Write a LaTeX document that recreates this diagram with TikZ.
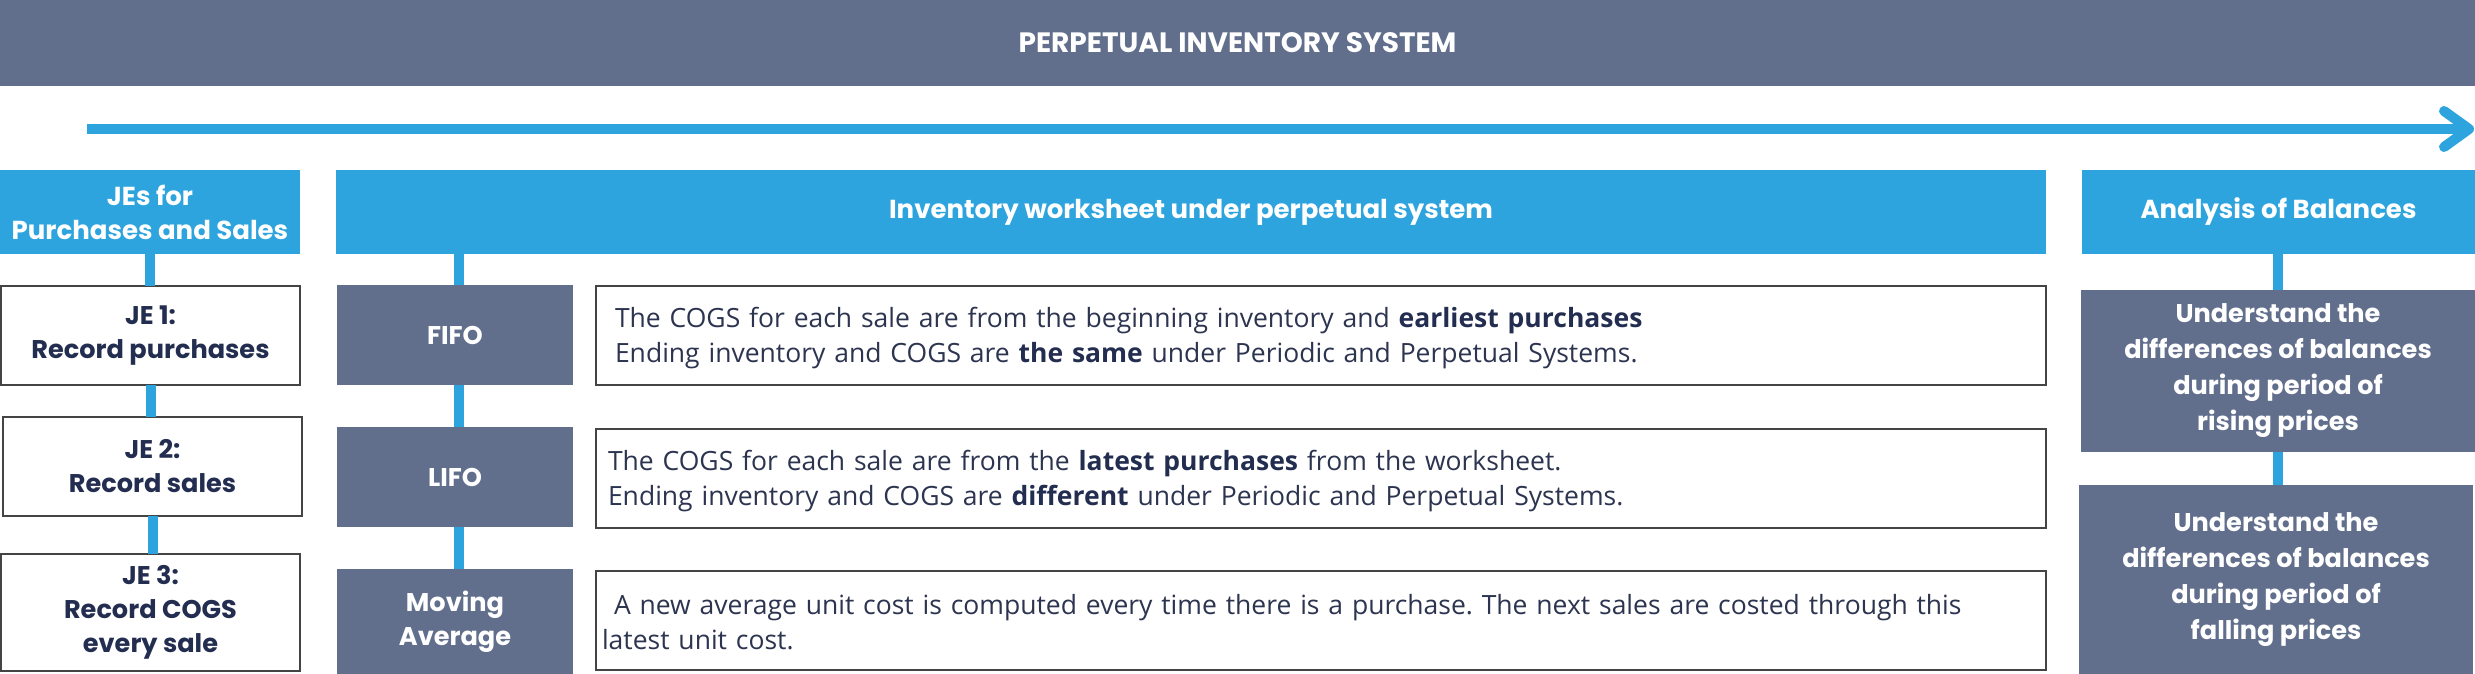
\documentclass[tikz,border=0pt]{standalone}
\usepackage{fontspec}
\setmainfont{Poppins}
\newfontfamily\bodyfont{Open Sans}
\usetikzlibrary{calc}
\frenchspacing
\definecolor{bluec}{HTML}{2EA4DE}
\definecolor{slate}{HTML}{616F8D}
\definecolor{navy}{HTML}{222D50}
\definecolor{txt}{HTML}{2C3450}
\definecolor{edge}{HTML}{444444}
\begin{document}
\begin{tikzpicture}[x=1pt,y=-1pt,
  every node/.style={inner sep=0pt, outer sep=0pt, anchor=north west},
  banner/.style={fill=slate, text=white, font=\fontsize{28}{30}\selectfont\bfseries, align=center},
  head/.style={fill=bluec, text=white, font=\fontsize{26}{34}\selectfont\bfseries, align=center},
  jebox/.style={draw=edge, line width=1.8pt, fill=white, text=navy, font=\fontsize{25.6}{34}\selectfont\bfseries, align=center},
  method/.style={fill=slate, text=white, font=\fontsize{25.6}{34}\selectfont\bfseries, align=center},
  result/.style={fill=slate, text=white, font=\fontsize{25.6}{36}\selectfont\bfseries, align=center},
  desc/.style={draw=edge, line width=1.8pt, fill=white, text=txt, font=\bodyfont\fontsize{26.5}{35}\selectfont\frenchspacing, align=left, text width=#1},
  conn/.style={draw=bluec, line width=10pt}
]
\useasboundingbox (0,0) rectangle (2475,674);
\fill[white] (0,0) rectangle (2475,674);
% banner
\node[banner, minimum width=2475pt, minimum height=86pt] (banner) at (0,0) {PERPETUAL INVENTORY SYSTEM};
% arrow
\coordinate (as) at (87,129);
\coordinate (ae) at (2469,129);
\draw[bluec, line width=10pt] (as) -- (ae);
\draw[bluec, line width=10pt, line cap=round, line join=round] ($(ae)+(-25,-18)$) -- (ae) -- ($(ae)+(-25,18)$);
% headers
\node[head, minimum width=300pt, minimum height=84pt] (h1) at (0,170) {JEs for\\Purchases and Sales};
\node[head, minimum width=1710pt, minimum height=84pt] (h2) at (336,170) {Inventory worksheet under perpetual system};
\node[head, minimum width=393pt, minimum height=84pt] (h3) at (2082,170) {Analysis of Balances};
% column 1
\node[jebox, minimum width=299pt, minimum height=99pt] (je1) at (1,286) {JE 1:\\Record purchases};
\node[jebox, minimum width=299pt, minimum height=99pt] (je2) at (3,417) {JE 2:\\Record sales};
\node[jebox, minimum width=299pt, minimum height=117pt] (je3) at (1,554) {JE 3:\\Record COGS\\every sale};
% column 2 methods
\node[method, minimum width=236pt, minimum height=100pt] (fifo) at (337,285) {FIFO};
\node[method, minimum width=236pt, minimum height=100pt] (lifo) at (337,427) {LIFO};
\node[method, minimum width=236pt, minimum height=105pt] (mavg) at (337,569) {Moving\\Average};
% descriptions
\node[desc=1412pt, inner xsep=19pt, minimum height=99pt] (t1) at (596,286)
  {\rule{0pt}{25pt}The COGS for each sale are from the beginning inventory and {\bfseries\color{navy}earliest purchases}\\Ending inventory and COGS are {\bfseries\color{navy}the same} under Periodic and Perpetual Systems.};
\node[desc=1426pt, inner xsep=12pt, minimum height=99pt] (t2) at (596,429)
  {\rule{0pt}{25pt}The COGS for each sale are from the {\bfseries\color{navy}latest purchases} from the worksheet.\\Ending inventory and COGS are {\bfseries\color{navy}different} under Periodic and Perpetual Systems.};
\node[desc=1438pt, inner xsep=6pt, minimum height=99pt] (t3) at (596,571)
  {\rule{0pt}{23pt}\hspace*{12pt}A new average unit cost is computed every time there is a purchase. The next sales are costed through this\\latest unit cost.};
% column 3
\node[result, minimum width=394pt, minimum height=162pt] (r1) at (2081,290) {Understand the\\differences of balances\\during period of\\rising prices};
\node[result, minimum width=394pt, minimum height=189pt] (r2) at (2079,485) {Understand the\\differences of balances\\during period of\\falling prices};
% connectors
\draw[conn] (h1.south) -- (h1.south |- je1.north);
\draw[conn] (je1.south) -- (je1.south |- je2.north);
\draw[conn] (je2.south) -- (je2.south |- je3.north);
\draw[conn] ([xshift=4pt]fifo.north) -- ([xshift=4pt]fifo.north |- h2.south);
\draw[conn] ([xshift=4pt]fifo.south) -- ([xshift=4pt]lifo.north);
\draw[conn] ([xshift=4pt]lifo.south) -- ([xshift=4pt]mavg.north);
\draw[conn] (r1.north) -- (r1.north |- h3.south);
\draw[conn] (r1.south) -- (r1.south |- r2.north);
\end{tikzpicture}
\end{document}
